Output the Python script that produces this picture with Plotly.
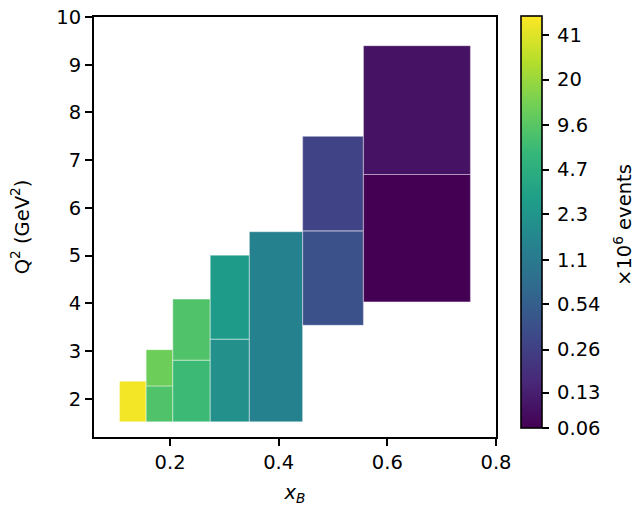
import numpy as np
import plotly.graph_objects as go

# bin edges (x_B) and (Q^2) for each bin, and event counts (x10^6)
x_lo = [0.107, 0.156, 0.156, 0.205, 0.205, 0.274, 0.274, 0.346, 0.444, 0.444, 0.556, 0.556]
x_hi = [0.156, 0.205, 0.205, 0.274, 0.274, 0.346, 0.346, 0.444, 0.556, 0.556, 0.753, 0.753]
q2_lo = [1.52, 1.52, 2.27, 1.52, 2.81, 1.52, 3.25, 1.52, 3.54, 5.52, 4.03, 6.70]
q2_hi = [2.37, 2.27, 3.03, 2.81, 4.09, 3.25, 5.01, 5.50, 5.52, 7.50, 6.70, 9.40]
events = [50.0, 8.7, 12.5, 6.7, 8.7, 2.0, 2.8, 1.36, 0.39, 0.28, 0.074, 0.103]

cbar_min, cbar_max = 0.0736, 55.7
cbar_tick_values = [0.0736, 0.13, 0.26, 0.54, 1.1, 2.3, 4.7, 9.6, 20, 41]
cbar_tick_labels = ["0.06", "0.13", "0.26", "0.54", "1.1", "2.3", "4.7", "9.6", "20", "41"]

x_ticks = [0.2, 0.4, 0.6, 0.8]
x_tick_labels = ["0.2", "0.4", "0.6", "0.8"]
y_ticks = [2, 3, 4, 5, 6, 7, 8, 9, 10]

xl = np.array(x_lo); xh = np.array(x_hi)
yl = np.array(q2_lo); yh = np.array(q2_hi)

font = dict(family="DejaVu Sans", size=19.5, color="black")

fig = go.Figure(go.Bar(
    x=(xl + xh) / 2,
    width=xh - xl,
    base=yl,
    y=yh - yl,
    marker=dict(
        color=np.log10(events),
        colorscale="Viridis",
        cmin=np.log10(cbar_min),
        cmax=np.log10(cbar_max),
        line=dict(color="rgba(255,255,255,0.35)", width=1.2),
        colorbar=dict(
            x=1.062, xanchor="left", xpad=0,
            y=0.512, yanchor="middle", ypad=0,
            len=0.981, lenmode="fraction",
            thickness=21,
            outlinecolor="black", outlinewidth=1.6,
            tickvals=np.log10(cbar_tick_values),
            ticktext=["\u2009" + t for t in cbar_tick_labels],
            ticks="outside", ticklen=7, tickwidth=1.6, tickcolor="black",
            tickfont=font,
        ),
    ),
    hoverinfo="skip",
))

fig.add_annotation(
    text="×10<sup>6</sup> events", textangle=-90,
    xref="paper", yref="paper", x=1.316, y=0.505,
    xanchor="center", yanchor="middle", showarrow=False, font=font,
    borderpad=0,
)

axis_common = dict(
    showgrid=False, zeroline=False, automargin=False,
    showline=True, linecolor="black", linewidth=1.8, mirror=True,
    ticks="outside", ticklen=7, tickwidth=1.6, tickcolor="black",
    tickfont=font,
)

fig.update_layout(
    width=638, height=506,
    margin=dict(l=94, r=142, t=17, b=69, autoexpand=False),
    paper_bgcolor="white", plot_bgcolor="white",
    barmode="overlay",
    showlegend=False,
    font=font,
    xaxis=dict(range=[0.06, 0.8], tickvals=x_ticks, ticktext=x_tick_labels,
               title=dict(text="<i>x</i><sub><i>B</i></sub>", font=font, standoff=13), **axis_common),
    yaxis=dict(range=[1.2, 10], tickvals=y_ticks,
               title=dict(text="Q<sup>2</sup> (GeV<sup>2</sup>)", font=font, standoff=22), **axis_common),
)

fig.write_html("out.html", config={"displayModeBar": False},
               post_script="document.body.style.margin='0';")
